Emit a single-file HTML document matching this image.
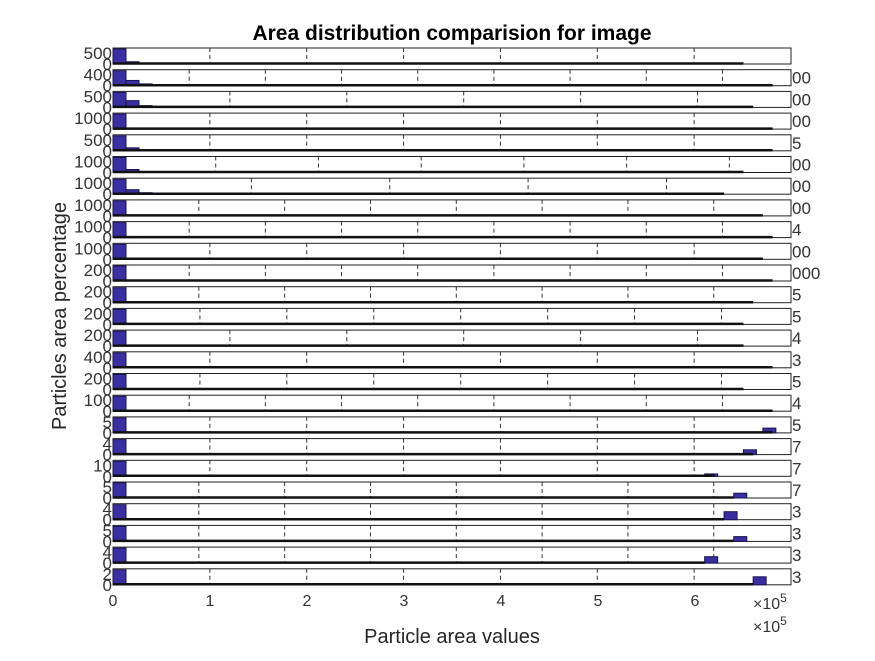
<!DOCTYPE html>
<html><head><meta charset="utf-8"><style>
body{margin:0;background:#fff;width:875px;height:656px;overflow:hidden}
svg{font-family:"Liberation Sans",sans-serif}
</style></head><body>
<svg id="c" width="875" height="656">
<text x="452" y="40" text-anchor="middle" font-size="21" font-weight="bold">Area distribution comparision for image</text>
<text x="452" y="643" text-anchor="middle" font-size="20" fill="#262626">Particle area values</text>
<text transform="translate(66,316) rotate(-90)" text-anchor="middle" font-size="20" fill="#262626">Particles area percentage</text>
<g id="plots"></g>
</svg>
<script>
// per-row x-limits (in 1e5 units), tick labels
const rowXmax=[7,8.9,5.8,7,7,6.6,4.9,7.9,8.9,7,8.9,7.9,7.8,5.8,7,7.8,8.9,7,7,7,7.9,7.9,7.9,7.9,7];
const firstBin=[1,1,1,1,1,1,1,1,1,1,1,1,1,1,1,1,1,1,1,1,1,1,1,1,1];
const secondBin=[0.15,0.35,0.45,0,0.2,0.2,0.3,0,0.05,0.05,0,0,0,0,0,0,0,0,0,0,0,0,0,0,0];
const thirdBin=[0,0.12,0.12,0,0.05,0.05,0.1,0,0,0,0,0,0,0,0,0,0,0,0,0,0,0,0,0,0];
const outlierX=[0,0,0,0,0,0,0,0,0,0,0,0,0,0,0,0,0,6.7,6.5,6.1,6.4,6.3,6.4,6.1,6.6];
const outlierH=[0,0,0,0,0,0,0,0,0,0,0,0,0,0,0,0,0,0.3,0.3,0.15,0.3,0.5,0.3,0.4,0.5];
const baseEnd=[6.5,6.8,6.6,6.8,6.8,6.5,6.3,6.7,6.8,6.7,6.8,6.6,6.5,6.5,6.8,6.5,6.8,6.8,6.6,6.2,6.4,6.3,6.4,6.1,6.6];
const leftTop=["500","400","500","1000","500","1000","1000","1000","1000","1000","200","200","200","200","400","200","100","5","4","10","5","4","5","4","2"];
const rightLbl=["","00","00","00","5","00","00","00","4","00","000","5","5","4","3","5","4","5","7","7","7","3","3","3","3"];
const xTicks=[0,1,2,3,4,5,6];
const L=113,R=791,W=R-L,T0=48,P=21.7,H=16;
const NS="http://www.w3.org/2000/svg";
const g=document.getElementById('plots');
function el(t,a,p){const e=document.createElementNS(NS,t);for(const k in a)e.setAttribute(k,a[k]);(p||g).appendChild(e);return e;}
function sx(v,xm){return L+v/xm*W;}
rowXmax.forEach((xm,i)=>{
  const y=T0+i*P, yb=y+H;
  const r=el('g',{});
  
  
  const box=el('rect',{x:L,y:y,width:W,height:H,fill:'#fff',stroke:'#222','stroke-width':1},r);
  
  
  for(let t=1;t<xm;t++){
    const x=sx(t,xm);
    const gl=el('line',{x1:x,x2:x,y1:y,y2:yb,stroke:'#333','stroke-dasharray':'4,3'},r);
    
    
  }
  const bw=13;
  const bins=[firstBin[i],secondBin[i],thirdBin[i]];
  bins.forEach((h,j)=>{ if(h<=0)return;
    const b=el('rect',{x:L+j*bw,y:yb-h*(H-1),width:bw,height:h*(H-1),fill:'#3a2fa0',stroke:'#1a1450'},r);
    
    
  });
  if(outlierH[i]>0){
    const b=el('rect',{x:sx(outlierX[i],6.99),y:yb-outlierH[i]*H,width:13,height:outlierH[i]*H,fill:'#3a2fa0',stroke:'#1a1450'},r);
    
    
  }
  const bl=el('line',{x1:L,x2:sx(baseEnd[i],6.99),y1:yb-0.5,y2:yb-0.5,stroke:'#111','stroke-width':2.5},r);
  
  
  const lt=el('text',{x:L-1,y:y+11,'text-anchor':'end','font-size':17,fill:'#333'},r);
  lt.textContent=leftTop[i];
  
  
  const l0=el('text',{x:L-1,y:yb+6,'text-anchor':'end','font-size':17,fill:'#333'},r);
  l0.textContent='0';
  
  
  if(rightLbl[i]){
    const rl=el('text',{x:R+1,y:y+14,'font-size':17,fill:'#333'},r);
    rl.textContent=rightLbl[i];
    
    
  }
});
xTicks.forEach(t=>{
  const x=L+t*97;
  const tx=el('text',{x:x,y:606,'text-anchor':'middle','font-size':16,fill:'#333'});
  tx.textContent=t;
  
  
});
[[753,609],[753,632]].forEach(p=>{
  const e=el('text',{x:p[0],y:p[1],'font-size':16,fill:'#333'});
  e.innerHTML='×10<tspan dy="-7" font-size="12">5</tspan>';
  
  
});
</script>
</body></html>
